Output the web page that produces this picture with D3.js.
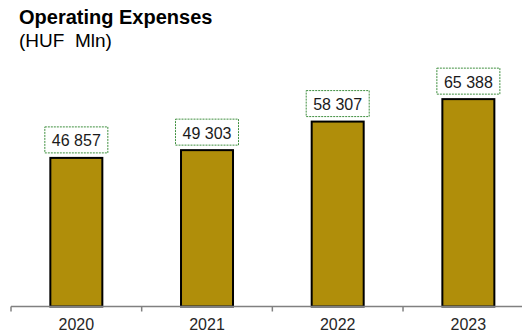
<!DOCTYPE html>
<html>
<head>
<meta charset="utf-8">
<script src="https://cdn.jsdelivr.net/npm/d3@7/dist/d3.min.js"></script>
<style>
  html, body { margin: 0; padding: 0; background: #fff; }
  svg { display: block; font-family: "Liberation Sans", Arial, sans-serif; }
</style>
</head>
<body>
<svg id="chart" width="522" height="333"></svg>
<script>
// Operating expenses by year, HUF million
const years = ["2020", "2021", "2022", "2023"];
const expenses = [46857, 49303, 58307, 65388];

const svg = d3.select("#chart");
const W = 522, H = 333;
const baseY = 306.5;

const x = d3.scaleBand().domain(years).range([11, 533.7]).padding(0);
const y = d3.scaleLinear().domain([0, 70000]).range([baseY, baseY - 222]);

const fmt = v => d3.format(",")(v).replace(/,/g, " ");

// title
svg.append("text")
  .attr("x", 19).attr("y", 24)
  .attr("font-size", 20).attr("font-weight", "bold").attr("fill", "#000")
  .text("Operating Expenses");
svg.append("text")
  .attr("x", 19).attr("y", 46.5)
  .attr("font-size", 19).attr("fill", "#000")
  .attr("xml:space", "preserve")
  .style("white-space", "pre")
  .text("(HUF  Mln)");

// bars
const bw = 52;
svg.append("g").selectAll("rect")
  .data(years)
  .join("rect")
  .attr("x", (d) => x(d) + x.bandwidth() / 2 - bw / 2)
  .attr("y", (d, i) => y(expenses[i]))
  .attr("width", bw)
  .attr("height", (d, i) => baseY - y(expenses[i]))
  .attr("fill", "#B08E0A")
  .attr("stroke", "#000")
  .attr("stroke-width", 2);

// x axis
const axis = svg.append("g")
  .attr("transform", `translate(0,${baseY})`)
  .call(d3.axisBottom(x).tickSize(0).tickPadding(0).tickFormat(""));
axis.select(".domain").remove();
axis.append("line")
  .attr("x1", 11).attr("x2", W).attr("y1", 0).attr("y2", 0)
  .attr("stroke", "#808080").attr("stroke-width", 1.5);
axis.selectAll(".sep")
  .data(years)
  .join("line")
  .attr("class", "sep")
  .attr("x1", d => x(d)).attr("x2", d => x(d))
  .attr("y1", 0).attr("y2", 5)
  .attr("stroke", "#808080").attr("stroke-width", 1.5);
axis.selectAll(".tick text").remove();
svg.append("g").selectAll("text")
  .data(years)
  .join("text")
  .attr("x", d => x(d) + x.bandwidth() / 2)
  .attr("y", 330)
  .attr("text-anchor", "middle")
  .attr("font-size", 16)
  .attr("fill", "#262626")
  .text(d => d);

// value labels in dashed boxes
const lbl = svg.append("g").selectAll("g")
  .data(years)
  .join("g")
  .attr("transform", (d, i) => `translate(${x(d) + x.bandwidth() / 2},${y(expenses[i]) - 5})`);
lbl.append("rect")
  .attr("x", -31.5).attr("y", -26)
  .attr("width", 63).attr("height", 26)
  .attr("fill", "#fff")
  .attr("stroke", "#3f8f3f")
  .attr("stroke-width", 1)
  .attr("stroke-dasharray", "2,1");
lbl.append("text")
  .attr("x", 0).attr("y", -6.5)
  .attr("text-anchor", "middle")
  .attr("font-size", 16)
  .attr("fill", "#1a1a1a")
  .text((d, i) => fmt(expenses[i]));
</script>
</body>
</html>
